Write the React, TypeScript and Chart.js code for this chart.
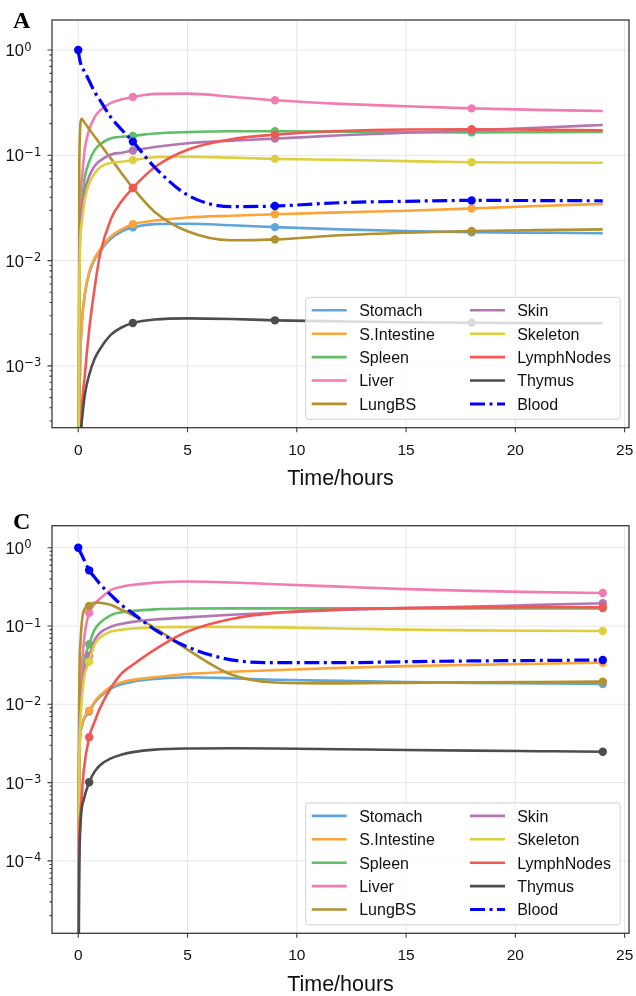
import React, { useEffect, useRef } from 'react';
import { Chart, registerables } from 'chart.js';

Chart.register(...registerables);

const seriesNames = ['Stomach', 'S.Intestine', 'Spleen', 'Liver', 'LungBS', 'Skin', 'Skeleton', 'LymphNodes', 'Thymus', 'Blood'];
const seriesColors = ['#5DA5DA', '#FAA43A', '#60BD68', '#F17CB0', '#B2912F', '#B276B2', '#DECF3F', '#F15854', '#4D4D4D', '#0000FF'];
const xTicks = [0, 5, 10, 15, 20, 25];
const xTitle = 'Time/hours';

// ---------- Panel A ----------
const timesA = [0, 0.05, 0.15, 0.3, 0.5, 0.75, 1, 1.5, 2, 2.5, 3.5, 5, 7, 9, 12, 15, 18, 21, 24];
const markerTimesA = [2.5, 9, 18];
const stomachA = [1e-7, 2.5e-4, 0.0022, 0.0047, 0.0076, 0.0102, 0.0123, 0.0162, 0.019, 0.0207, 0.0222, 0.0224, 0.0217, 0.0208, 0.0198, 0.0191, 0.0186, 0.0184, 0.0182];
const intestineA = [1e-7, 2.5e-4, 0.0022, 0.0048, 0.0078, 0.0105, 0.0128, 0.017, 0.0199, 0.0222, 0.024, 0.0257, 0.0267, 0.0276, 0.0287, 0.0298, 0.0313, 0.033, 0.0345];
const spleenA = [1e-7, 0.008, 0.034, 0.062, 0.087, 0.112, 0.127, 0.145, 0.15, 0.153, 0.161, 0.166, 0.169, 0.169, 0.168, 0.166, 0.165, 0.166, 0.167];
const liverA = [1e-7, 0.012, 0.055, 0.115, 0.175, 0.23, 0.267, 0.315, 0.34, 0.358, 0.383, 0.385, 0.36, 0.333, 0.308, 0.292, 0.279, 0.27, 0.264];
const lungA = [1e-7, 0.09, 0.222, 0.203, 0.177, 0.151, 0.128, 0.093, 0.067, 0.049, 0.029, 0.019, 0.0156, 0.0159, 0.0174, 0.0184, 0.0191, 0.0195, 0.0198];
const skinA = [1e-7, 0.007, 0.029, 0.046, 0.063, 0.079, 0.089, 0.102, 0.106, 0.111, 0.12, 0.13, 0.138, 0.144, 0.155, 0.164, 0.172, 0.183, 0.194];
const skeletonA = [1e-7, 0.005, 0.022, 0.038, 0.054, 0.067, 0.077, 0.085, 0.087, 0.09, 0.096, 0.097, 0.095, 0.0925, 0.0905, 0.088, 0.086, 0.0855, 0.085];
const lymphA = [1e-7, 2e-5, 2.9e-4, 8e-4, 0.0022, 0.0055, 0.0115, 0.025, 0.037, 0.049, 0.077, 0.113, 0.142, 0.157, 0.17, 0.176, 0.177, 0.175, 0.173];
const thymusA = [1e-7, 8e-5, 2.8e-4, 5.3e-4, 8.2e-4, 0.00117, 0.00145, 0.00198, 0.00233, 0.00256, 0.00276, 0.00283, 0.00279, 0.00271, 0.00265, 0.0026, 0.00257, 0.00255, 0.00254];
const bloodA = [1.0, 0.85, 0.7, 0.62, 0.51, 0.4, 0.333, 0.229, 0.174, 0.135, 0.077, 0.042, 0.0325, 0.033, 0.0355, 0.0366, 0.0373, 0.0372, 0.037];

// ---------- Panel C ----------
const timesC = [0, 0.03, 0.1, 0.25, 0.5, 0.75, 1, 1.5, 2, 2.5, 3.5, 5, 7, 9, 12, 15, 18, 21, 24];
const markerTimesC = [0.5, 24];
const stomachC = [1e-8, 6e-4, 0.0041, 0.0063, 0.0081, 0.0105, 0.0125, 0.016, 0.0182, 0.0195, 0.021, 0.0222, 0.0215, 0.0206, 0.0199, 0.0193, 0.0188, 0.0185, 0.0182];
const intestineC = [1e-8, 6e-4, 0.0042, 0.0065, 0.0083, 0.0108, 0.013, 0.0168, 0.0192, 0.0205, 0.0222, 0.0244, 0.026, 0.0273, 0.0292, 0.0307, 0.0319, 0.033, 0.034];
const spleenC = [1e-8, 8e-4, 0.012, 0.033, 0.0584, 0.09, 0.11, 0.138, 0.15, 0.156, 0.163, 0.167, 0.168, 0.168, 0.168, 0.168, 0.168, 0.168, 0.168];
const liverC = [1e-8, 5e-4, 0.012, 0.06, 0.148, 0.19, 0.225, 0.288, 0.318, 0.335, 0.358, 0.37, 0.36, 0.342, 0.318, 0.296, 0.281, 0.271, 0.264];
const lungC = [1e-8, 0.003, 0.06, 0.155, 0.18, 0.2, 0.198, 0.185, 0.16, 0.137, 0.095, 0.05, 0.024, 0.019, 0.0185, 0.0188, 0.0191, 0.0193, 0.0195];
const skinC = [1e-8, 6e-4, 0.009, 0.025, 0.0414, 0.066, 0.082, 0.098, 0.107, 0.113, 0.121, 0.129, 0.139, 0.148, 0.16, 0.169, 0.177, 0.186, 0.195];
const skeletonC = [1e-8, 4e-4, 0.006, 0.02, 0.035, 0.058, 0.071, 0.085, 0.09, 0.093, 0.096, 0.097, 0.097, 0.096, 0.093, 0.09, 0.088, 0.087, 0.0863];
const lymphC = [1e-8, 8e-5, 4e-4, 0.0014, 0.0038, 0.006, 0.009, 0.0163, 0.025, 0.032, 0.05, 0.085, 0.123, 0.147, 0.163, 0.17, 0.173, 0.174, 0.173];
const thymusC = [1e-8, 1.5e-5, 2.7e-4, 6e-4, 0.00101, 0.00138, 0.00167, 0.00204, 0.00228, 0.00245, 0.00264, 0.00273, 0.00275, 0.00273, 0.00267, 0.00261, 0.00256, 0.00252, 0.00248];
const bloodC = [1.0, 0.96, 0.875, 0.717, 0.514, 0.419, 0.342, 0.248, 0.184, 0.145, 0.09, 0.054, 0.037, 0.034, 0.034, 0.035, 0.0358, 0.0363, 0.0368];

const BLOOD_DASH = [15, 4.5, 3, 4.5];
const GRID = '#e6e6e6';
const AXIS = '#3a3a3a';
const TEXT = '#111111';

type PanelCfg = {
  letter: string;
  top: number;
  letterBaseline: number;
  times: number[];
  markers: number[];
  values: number[][];
  yMin: number;
  yMax: number;
  decades: number[];
  padTop: number;
  padBottom: number;
};

const CANVAS_W = 636;
const CANVAS_H = 498;

const panels: PanelCfg[] = [
  {
    letter: 'A', top: 0, letterBaseline: 27.5,
    times: timesA, markers: markerTimesA,
    values: [stomachA, intestineA, spleenA, liverA, lungA, skinA, skeletonA, lymphA, thymusA, bloodA],
    yMin: 2.59e-4, yMax: 1.928, decades: [0, -1, -2, -3],
    padTop: 20, padBottom: 70.3,
  },
  {
    letter: 'C', top: 498, letterBaseline: 31,
    times: timesC, markers: markerTimesC,
    values: [stomachC, intestineC, spleenC, liverC, lungC, skinC, skeletonC, lymphC, thymusC, bloodC],
    yMin: 1.19e-5, yMax: 1.91, decades: [0, -1, -2, -3, -4],
    padTop: 27.7, padBottom: 62.7,
  },
];

function makeDecor(panel: PanelCfg) {
  return {
    id: 'decor' + panel.letter,
    beforeDatasetsDraw(chart: any) {
      const { ctx, chartArea: a } = chart;
      const xs = chart.scales.x;
      const ys = chart.scales.y;
      ctx.save();
      ctx.strokeStyle = GRID;
      ctx.lineWidth = 1;
      ctx.beginPath();
      for (const v of xTicks) {
        const px = xs.getPixelForValue(v);
        ctx.moveTo(px, a.top);
        ctx.lineTo(px, a.bottom);
      }
      for (const e of panel.decades) {
        const py = ys.getPixelForValue(Math.pow(10, e));
        ctx.moveTo(a.left, py);
        ctx.lineTo(a.right, py);
      }
      ctx.stroke();
      ctx.restore();
    },
    afterDatasetsDraw(chart: any) {
      const { ctx, chartArea: a } = chart;
      const lw = 314.5;
      const lh = 122;
      const lx = a.right - 8.8 - lw;
      const ly = a.bottom - 8.4 - lh;
      ctx.save();
      ctx.beginPath();
      const r = 3;
      ctx.moveTo(lx + r, ly);
      ctx.lineTo(lx + lw - r, ly);
      ctx.arcTo(lx + lw, ly, lx + lw, ly + r, r);
      ctx.lineTo(lx + lw, ly + lh - r);
      ctx.arcTo(lx + lw, ly + lh, lx + lw - r, ly + lh, r);
      ctx.lineTo(lx + r, ly + lh);
      ctx.arcTo(lx, ly + lh, lx, ly + lh - r, r);
      ctx.lineTo(lx, ly + r);
      ctx.arcTo(lx, ly, lx + r, ly, r);
      ctx.closePath();
      ctx.fillStyle = 'rgba(255,255,255,0.8)';
      ctx.fill();
      ctx.strokeStyle = '#d0d0d0';
      ctx.lineWidth = 1;
      ctx.stroke();
      ctx.font = '16px "Liberation Sans", Arial, sans-serif';
      ctx.textAlign = 'left';
      ctx.textBaseline = 'alphabetic';
      seriesNames.forEach((name, i) => {
        const col = Math.floor(i / 5);
        const row = i % 5;
        const cy = ly + 13 + row * 23.4;
        const x0 = lx + (col ? 164.3 : 6);
        ctx.beginPath();
        ctx.strokeStyle = seriesColors[i];
        ctx.lineWidth = name === 'Blood' ? 3 : 2.6;
        ctx.setLineDash(name === 'Blood' ? BLOOD_DASH : []);
        ctx.lineCap = 'butt';
        ctx.moveTo(x0, cy);
        ctx.lineTo(x0 + 35, cy);
        ctx.stroke();
        ctx.setLineDash([]);
        ctx.fillStyle = TEXT;
        ctx.fillText(name, lx + (col ? 211.5 : 53.5), cy + 5.8);
      });
      ctx.restore();
    },
    afterDraw(chart: any) {
      const { ctx, chartArea: a } = chart;
      const xs = chart.scales.x;
      const ys = chart.scales.y;
      ctx.save();
      ctx.strokeStyle = AXIS;
      ctx.lineWidth = 1.3;
      ctx.strokeRect(a.left, a.top, a.right - a.left, a.bottom - a.top);
      ctx.lineWidth = 1.1;
      ctx.beginPath();
      for (const v of xTicks) {
        const px = xs.getPixelForValue(v);
        ctx.moveTo(px, a.bottom);
        ctx.lineTo(px, a.bottom + 4.5);
      }
      for (const e of panel.decades) {
        const py = ys.getPixelForValue(Math.pow(10, e));
        ctx.moveTo(a.left - 4.5, py);
        ctx.lineTo(a.left, py);
      }
      const kLo = Math.floor(Math.log10(panel.yMin));
      for (let k = kLo; k <= 0; k++) {
        for (let m = 2; m <= 9; m++) {
          const v = m * Math.pow(10, k);
          if (v <= panel.yMin || v >= panel.yMax) continue;
          const py = ys.getPixelForValue(v);
          ctx.moveTo(a.left - 2.5, py);
          ctx.lineTo(a.left, py);
        }
      }
      ctx.stroke();
      ctx.fillStyle = TEXT;
      ctx.font = '15.5px "Liberation Sans", Arial, sans-serif';
      ctx.textAlign = 'center';
      ctx.textBaseline = 'alphabetic';
      for (const v of xTicks) {
        ctx.fillText(String(v), xs.getPixelForValue(v), a.bottom + 27);
      }
      ctx.font = '21.5px "Liberation Sans", Arial, sans-serif';
      ctx.fillText(xTitle, (a.left + a.right) / 2, a.bottom + 57.3);
      ctx.textAlign = 'left';
      for (const e of panel.decades) {
        const py = ys.getPixelForValue(Math.pow(10, e));
        ctx.font = '16.5px "Liberation Sans", Arial, sans-serif';
        const base = '10';
        ctx.fillText(base, 5.5, py + 6);
        const w = ctx.measureText(base).width;
        ctx.font = '11.5px "DejaVu Sans", sans-serif';
        const exp = e === 0 ? '0' : '\u2212' + String(-e);
        ctx.fillText(exp, 5.5 + w + 0.5, py + 0.5);
      }
      ctx.font = 'bold 24px "Liberation Serif", "Times New Roman", serif';
      ctx.fillStyle = '#000';
      ctx.fillText(panel.letter, 13, panel.letterBaseline);
      ctx.restore();
    },
  };
}

function Panel({ panel }: { panel: PanelCfg }) {
  const ref = useRef<HTMLCanvasElement | null>(null);
  useEffect(() => {
    if (!ref.current) return;
    const datasets = seriesNames.map((name, i) => {
      const vals = panel.values[i];
      const isBlood = name === 'Blood';
      return {
        label: name,
        data: panel.times.map((t, k) => ({ x: t, y: vals[k] })),
        borderColor: seriesColors[i],
        backgroundColor: seriesColors[i],
        borderWidth: isBlood ? 3.2 : 2.6,
        borderDash: isBlood ? BLOOD_DASH : [],
        borderCapStyle: 'butt',
        pointRadius: panel.times.map((t, k) =>
          panel.markers.includes(t) || (isBlood && k === 0) ? 4.2 : 0
        ),
        pointBackgroundColor: seriesColors[i],
        pointBorderWidth: 0,
        pointHoverRadius: 0,
        cubicInterpolationMode: 'monotone',
        capBezierPoints: false,
        fill: false,
        order: seriesNames.length - i,
      };
    });
    const chart = new Chart(ref.current, {
      type: 'line',
      data: { datasets } as any,
      options: {
        animation: false,
        responsive: false,
        maintainAspectRatio: false,
        devicePixelRatio: 1,
        events: [],
        layout: {
          padding: { left: 52, right: 7, top: panel.padTop, bottom: panel.padBottom },
        },
        scales: {
          x: { type: 'linear', min: -1.2, max: 25.2, display: false },
          y: { type: 'logarithmic', min: panel.yMin, max: panel.yMax, display: false },
        },
        plugins: {
          legend: { display: false },
          tooltip: { enabled: false },
        },
      } as any,
      plugins: [makeDecor(panel) as any],
    });
    return () => chart.destroy();
  }, [panel]);
  return (
    <canvas
      ref={ref}
      width={CANVAS_W}
      height={CANVAS_H}
      style={{ position: 'absolute', left: 0, top: panel.top, width: CANVAS_W, height: CANVAS_H }}
    />
  );
}

export default function App() {
  useEffect(() => {
    document.body.style.margin = '0';
    document.body.style.overflow = 'hidden';
  }, []);
  return (
    <div style={{ position: 'absolute', left: 0, top: 0, width: 636, height: 996, background: '#fff', overflow: 'hidden' }}>
      {panels.map((p) => (
        <Panel key={p.letter} panel={p} />
      ))}
    </div>
  );
}
